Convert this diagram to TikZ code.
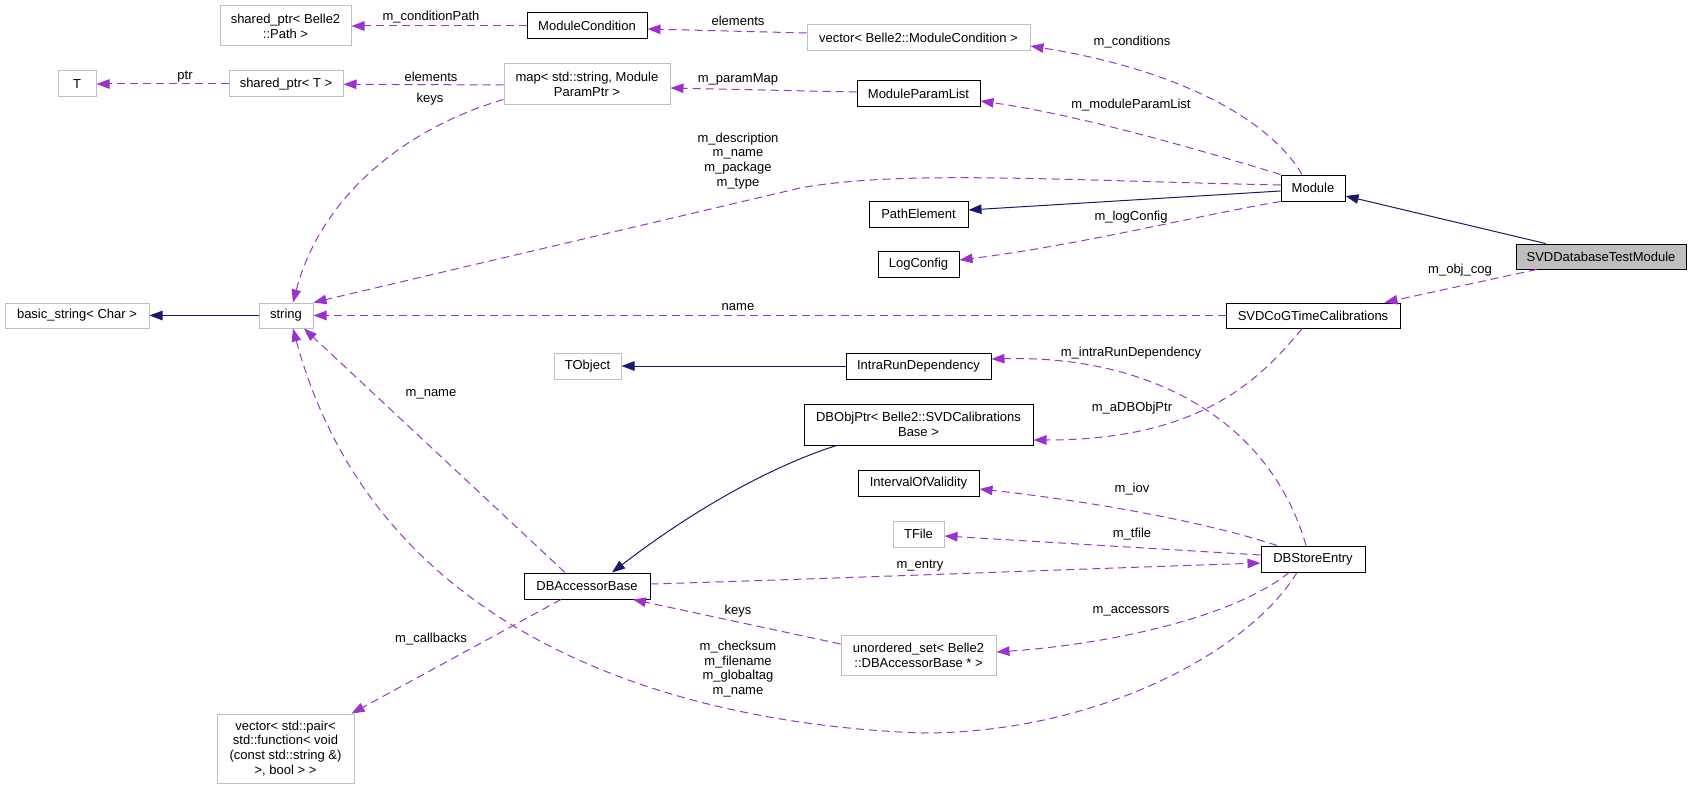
\documentclass[tikz,border=0pt]{standalone}
\usepackage{fontspec}
\setmainfont{Liberation Sans}
\usetikzlibrary{arrows.meta}
\definecolor{orchid}{HTML}{9A32CD}
\definecolor{navyblue}{HTML}{191970}
\definecolor{graybox}{HTML}{BFBFBF}

\begin{document}
\begin{tikzpicture}[x=1pt, y=-1pt, >={Triangle[length=13pt,width=9.5pt]},
  every node/.style={font=\fontsize{13}{14.8}\selectfont, inner sep=0pt, align=center},
  doc/.style={draw=black, line width=1pt, rectangle},
  undoc/.style={draw=graybox, line width=1pt, rectangle},
  mem/.style={->, orchid, line width=1pt, dash pattern=on 8pt off 5pt},
  inh/.style={->, navyblue, line width=1pt}]
\useasboundingbox (0,0) rectangle (1692,789);
% classes, column by column
\node[undoc, minimum width=131pt, minimum height=40pt] (pathptr) at (285.5,26) {shared\_ptr< Belle2\\::Path >};
\node[undoc, minimum width=38pt, minimum height=26pt] (tclass) at (77,84) {T};
\node[undoc, minimum width=114pt, minimum height=26pt] (tptr) at (286,84) {shared\_ptr< T >};
\node[undoc, minimum width=144pt, minimum height=25pt] (basicstr) at (77,315.5) {basic\_string< Char >};
\node[undoc, minimum width=54pt, minimum height=25pt] (str) at (286,315.5) {string};
\node[undoc, minimum width=137pt, minimum height=69pt] (cbvec) at (285.5,748.5) {vector< std::pair<\\std::function< void\\(const std::string \&)\\>, bool > >};
\node[doc, minimum width=120pt, minimum height=26pt] (modcond) at (587,26) {ModuleCondition};
\node[undoc, minimum width=166pt, minimum height=41pt] (parmap) at (587,84.5) {map< std::string, Module\\ParamPtr >};
\node[undoc, minimum width=67pt, minimum height=26pt] (tobj) at (587.5,366) {TObject};
\node[doc, minimum width=126pt, minimum height=26pt] (accbase) at (587,586) {DBAccessorBase};
\node[undoc, minimum width=223pt, minimum height=26pt] (condvec) at (918.5,38) {vector< Belle2::ModuleCondition >};
\node[doc, minimum width=123pt, minimum height=26pt] (parlist) at (918.5,94) {ModuleParamList};
\node[doc, minimum width=99pt, minimum height=26pt] (pathel) at (918.5,214) {PathElement};
\node[doc, minimum width=81pt, minimum height=26pt] (logcfg) at (918.5,264) {LogConfig};
\node[doc, minimum width=145pt, minimum height=26pt] (intrarun) at (918.5,366) {IntraRunDependency};
\node[doc, minimum width=229pt, minimum height=41pt] (objptr) at (918.5,424.5) {DBObjPtr< Belle2::SVDCalibrations\\Base >};
\node[doc, minimum width=121pt, minimum height=26pt] (iov) at (918.5,483) {IntervalOfValidity};
\node[undoc, minimum width=51pt, minimum height=26pt] (tfile) at (918.5,534) {TFile};
\node[undoc, minimum width=155pt, minimum height=40pt] (accset) at (918.5,655) {unordered\_set< Belle2\\::DBAccessorBase * >};
\node[doc, minimum width=64pt, minimum height=26pt] (module) at (1313,188) {Module};
\node[doc, minimum width=174pt, minimum height=25pt] (cogcal) at (1313,315.5) {SVDCoGTimeCalibrations};
\node[doc, minimum width=104pt, minimum height=26pt] (store) at (1313,559) {DBStoreEntry};
\node[doc, fill=graybox, minimum width=170pt, minimum height=25pt] (testmod) at (1601,256.5) {SVDDatabaseTestModule};
% inheritance
\draw[inh] ([xshift=30pt]testmod.north west) -- ([yshift=-8pt]module.east);
\draw[inh] ([yshift=-3pt]module.west) -- ([yshift=4pt]pathel.east);
\draw[inh] (str) -- (basicstr);
\draw[inh] (intrarun) -- (tobj);
\draw[inh] ([xshift=33pt]objptr.south west) .. controls (760,470) and (680,520) .. ([xshift=25pt]accbase.north);
% members
\draw[mem] ([xshift=21pt]testmod.south west) -- ([xshift=-16pt]cogcal.north east);
\node (lobjcog) at (1460,270) {m\_obj\_cog};
\draw[mem] ([yshift=3pt]module.west) .. controls (1050,180) and (900,170) .. (800,188) -- (str.north east);
\node (ldesc) at (738,161) {m\_description\\m\_name\\m\_package\\m\_type};
\draw[mem] (module.south west) .. controls (1200,215) and (1080,245) .. ([yshift=4pt]logcfg.east);
\node (llog) at (1131,217) {m\_logConfig};
\draw[mem] (module.north west) .. controls (1200,150) and (1080,115) .. ([yshift=-7pt]parlist.east);
\node (lparlist) at (1131,105) {m\_moduleParamList};
\draw[mem] ([xshift=-11pt]module.north) .. controls (1270,120) and (1180,70) .. ([yshift=-8pt]condvec.east);
\node (lcond) at (1132,42) {m\_conditions};
\draw[mem] ([yshift=5pt]condvec.west) -- ([yshift=-3pt]modcond.east);
\node (lelem) at (738,21) {elements};
\draw[mem] (modcond) -- (pathptr);
\node (lcpath) at (431,17) {m\_conditionPath};
\draw[mem] ([yshift=2pt]parlist.west) -- ([yshift=-3.5pt]parmap.east);
\node (lpmap) at (738,79) {m\_paramMap};
\draw[mem] ([yshift=-0.5pt]parmap.west) -- (tptr);
\node (lelem2) at (431,77) {elements};
\draw[mem] (tptr) -- (tclass);
\node (lptr) at (185,77) {ptr};
\draw[mem] ([yshift=-15pt]parmap.west) .. controls (400,130) and (320,200) .. ([xshift=7pt]str.north);
\node (lkeys) at (430,99) {keys};
\draw[mem] (cogcal) -- (str);
\node (lname) at (738,307) {name};
\draw[mem] ([xshift=-11pt]cogcal.south) .. controls (1260,380) and (1200,440) .. ([yshift=-15.5pt]objptr.east);
\node (lobjptr) at (1132,408) {m\_aDBObjPtr};
\draw[mem] ([xshift=-7pt]store.north) .. controls (1270,420) and (1150,355) .. ([yshift=7pt]intrarun.east);
\node (lintra) at (1131,353) {m\_intraRunDependency};
\draw[mem] ([xshift=-36pt]store.north) .. controls (1200,520) and (1080,500) .. ([yshift=-6pt]iov.east);
\node (liov) at (1132,489) {m\_iov};
\draw[mem] ([yshift=4pt]store.west) -- ([yshift=-2pt]tfile.east);
\node (ltfile) at (1132,534) {m\_tfile};
\draw[mem] ([yshift=2pt]accbase.east) .. controls (850,578) and (1050,570) .. ([yshift=-4pt]store.west);
\node (lentry) at (920,566) {m\_entry};
\draw[mem] ([xshift=-24pt]store.south) .. controls (1230,620) and (1100,645) .. ([yshift=3pt]accset.east);
\node (lacc) at (1131,611) {m\_accessors};
\draw[mem] ([yshift=11pt]accset.west) -- ([xshift=46pt]accbase.south);
\node (lkeys2) at (738,611) {keys};
\draw[mem] ([xshift=-22pt]accbase.north) -- ([xshift=18pt]str.south);
\node (lmname) at (431,394) {m\_name};
\draw[mem] ([xshift=-26pt]accbase.south) -- ([xshift=-3pt]cbvec.north east);
\node (lcb) at (431,639) {m\_callbacks};
\draw[mem] ([xshift=-16pt]store.south) .. controls (1250,650) and (1100,733) .. (922,733)
  .. controls (700,725) and (380,650) .. ([xshift=7pt]str.south);
\node (lcheck) at (738,669) {m\_checksum\\m\_filename\\m\_globaltag\\m\_name};
\end{tikzpicture}
\end{document}
